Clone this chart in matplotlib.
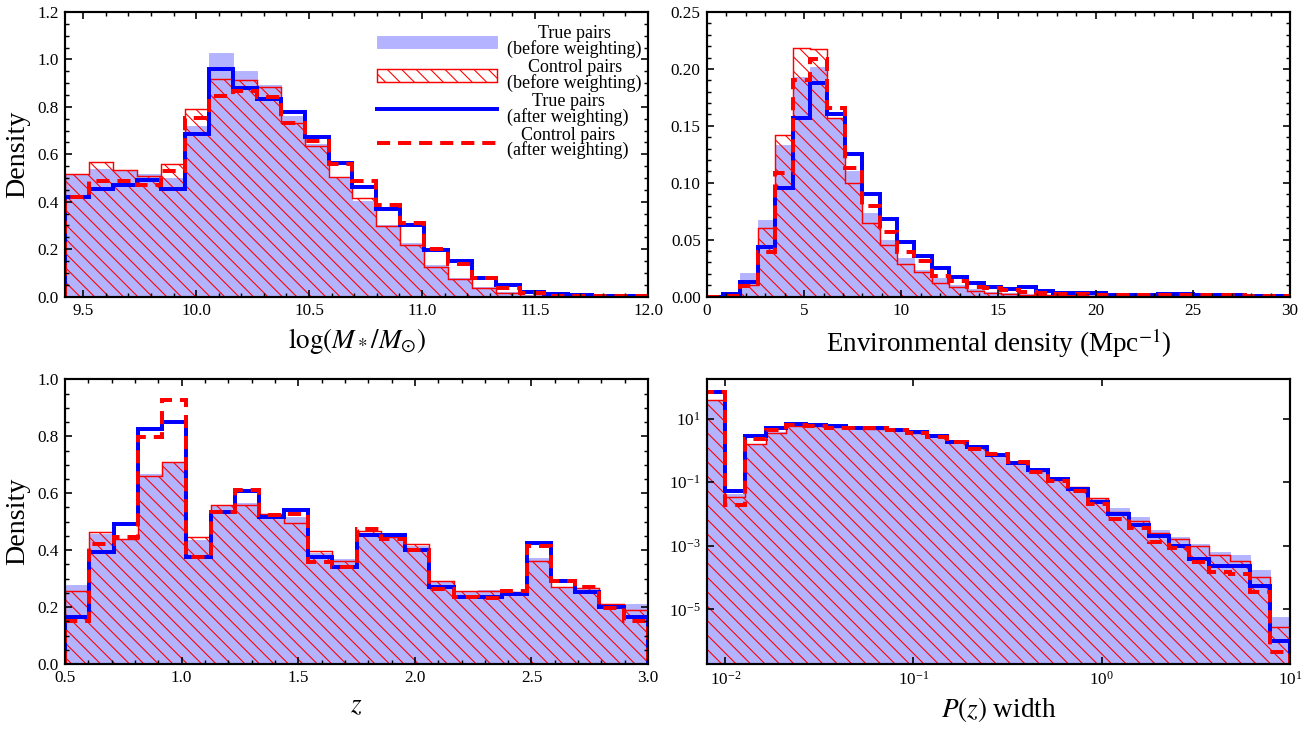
import matplotlib
matplotlib.use('Agg')
import matplotlib.pyplot as plt
import numpy as np
from matplotlib.ticker import AutoMinorLocator, NullLocator

plt.rcParams['font.family'] = ['Liberation Serif', 'DejaVu Serif']
plt.rcParams['mathtext.fontset'] = 'stix'
plt.rcParams['hatch.linewidth'] = 0.6
plt.rcParams['axes.linewidth'] = 1.2

# ---- stellar mass panel: bins start 9.42, width 0.106
mass_start, mass_width = 9.42, 0.106
mass_true_before = [0.515, 0.536, 0.53, 0.515, 0.50, 0.72, 1.026, 0.95, 0.894, 0.76,
                    0.642, 0.50, 0.405, 0.303, 0.226, 0.134, 0.08, 0.042, 0.018, 0.007,
                    0.003, 0.002, 0.001, 0.0005, 0.0003]
mass_ctrl_before = [0.515, 0.567, 0.532, 0.508, 0.558, 0.79, 0.918, 0.915, 0.882, 0.734,
                    0.635, 0.504, 0.414, 0.296, 0.219, 0.124, 0.075, 0.035, 0.014, 0.004,
                    0.0015, 0.001, 0.0005, 0.0003, 0.0002]
mass_true_after = [0.42, 0.455, 0.47, 0.49, 0.455, 0.685, 0.96, 0.878, 0.833, 0.779,
                   0.671, 0.565, 0.462, 0.371, 0.30, 0.195, 0.148, 0.08, 0.049, 0.021,
                   0.01, 0.006, 0.003, 0.001, 0.0005]
mass_ctrl_after = [0.42, 0.487, 0.487, 0.469, 0.53, 0.755, 0.847, 0.868, 0.84, 0.73,
                   0.657, 0.56, 0.487, 0.388, 0.31, 0.202, 0.137, 0.08, 0.038, 0.014,
                   0.004, 0.003, 0.002, 0.001, 0.0005]

# ---- environmental density panel: bins start -0.07, width 0.895
env_start, env_width = -0.07, 0.895
env_true_before = [0.0005, 0.002, 0.0205, 0.067, 0.133, 0.193, 0.2015, 0.157, 0.11, 0.0735,
                   0.05, 0.034, 0.0235, 0.016, 0.010, 0.0068, 0.0044, 0.003, 0.002, 0.0018,
                   0.0015, 0.0013, 0.0012, 0.001, 0.001, 0.0009, 0.0009, 0.0009, 0.0008, 0.0007,
                   0.0006, 0.0006, 0.0005, 0.0005]
env_ctrl_before = [0.0003, 0.001, 0.010, 0.060, 0.142, 0.218, 0.2176, 0.157, 0.100, 0.065,
                   0.0456, 0.029, 0.0215, 0.012, 0.008, 0.005, 0.003, 0.002, 0.0015, 0.0012,
                   0.001, 0.001, 0.0008, 0.0008, 0.0007, 0.0007, 0.0006, 0.0006, 0.0005, 0.0005,
                   0.0004, 0.0004, 0.0004, 0.0003]
env_true_after = [0.0, 0.002, 0.013, 0.0435, 0.095, 0.157, 0.188, 0.160, 0.125, 0.0897,
                  0.0685, 0.0476, 0.036, 0.025, 0.017, 0.0118, 0.008, 0.0068, 0.008, 0.005,
                  0.003, 0.003, 0.0035, 0.0018, 0.0018, 0.0018, 0.002, 0.0026, 0.0018, 0.0012,
                  0.001, 0.0008, 0.0008, 0.0008]
env_ctrl_after = [0.0, 0.0005, 0.009, 0.039, 0.109, 0.19, 0.209, 0.166, 0.113, 0.080,
                  0.057, 0.039, 0.031, 0.0185, 0.014, 0.0088, 0.0074, 0.0056, 0.004, 0.003,
                  0.002, 0.002, 0.0018, 0.0015, 0.0015, 0.0012, 0.0012, 0.0015, 0.0012, 0.0012,
                  0.001, 0.0008, 0.0006, 0.0005]

# ---- redshift panel: 24 bins 0.5 -> 3.0
z_range = (0.5, 3.0)
z_true_before = [0.277, 0.458, 0.44, 0.666, 0.707, 0.434, 0.554, 0.566, 0.522, 0.516,
                 0.39, 0.369, 0.458, 0.452, 0.416, 0.287, 0.254, 0.259, 0.248, 0.373,
                 0.267, 0.263, 0.20, 0.212]
z_ctrl_before = [0.255, 0.463, 0.44, 0.66, 0.711, 0.446, 0.56, 0.56, 0.526, 0.496,
                 0.396, 0.363, 0.466, 0.446, 0.422, 0.29, 0.255, 0.255, 0.254, 0.361,
                 0.269, 0.267, 0.21, 0.189]
z_true_after = [0.165, 0.395, 0.493, 0.825, 0.849, 0.377, 0.534, 0.607, 0.517, 0.542,
                0.375, 0.342, 0.452, 0.452, 0.40, 0.269, 0.236, 0.236, 0.245, 0.426,
                0.292, 0.254, 0.202, 0.165]
z_ctrl_after = [0.151, 0.42, 0.448, 0.796, 0.927, 0.377, 0.534, 0.613, 0.522, 0.528,
                0.36, 0.34, 0.475, 0.44, 0.40, 0.263, 0.236, 0.231, 0.255, 0.414,
                0.292, 0.269, 0.196, 0.151]

# ---- P(z) width panel: log bins, first edge 10^-2.107, 3/28 dex wide
pz_log_start, pz_log_width = -2.0 - 3.0 / 28, 3.0 / 28
pz_true_before = [38, 0.043, 1.62, 3.8, 5.9, 5.9, 5.45, 5.1, 4.83, 4.3,
                  3.6, 2.77, 1.83, 1.27, 0.73, 0.41, 0.23, 0.133, 0.066, 0.030,
                  0.0152, 0.0079, 0.0032, 0.0019, 0.00113, 0.00063, 0.00051, 0.000166, 5.9e-6]
pz_ctrl_before = [38, 0.035, 1.62, 3.6, 5.9, 5.9, 5.45, 5.1, 4.83, 4.3,
                  3.6, 2.77, 1.83, 1.27, 0.73, 0.41, 0.23, 0.119, 0.068, 0.031,
                  0.0113, 0.0062, 0.0026, 0.0016, 0.0010, 0.00050, 0.00034, 0.0001, 2.8e-6]
pz_true_after = [69, 0.051, 2.84, 5.2, 6.5, 6.2, 5.7, 5.1, 5.0, 4.3,
                 3.8, 2.77, 1.83, 1.27, 0.73, 0.41, 0.24, 0.121, 0.059, 0.023,
                 0.0100, 0.0045, 0.0020, 0.0010, 0.00038, 0.00023, 0.00023, 5.5e-5, 9.9e-7]
pz_ctrl_after = [69, 0.0197, 2.2, 4.3, 6.2, 5.8, 5.2, 5.0, 5.1, 4.3,
                 3.4, 2.6, 1.8, 1.14, 0.75, 0.42, 0.21, 0.105, 0.052, 0.021,
                 0.0070, 0.0035, 0.0013, 0.00084, 0.00031, 0.00015, 0.00013, 3.6e-5, 4.5e-7]

labels = ['True pairs\n(before weighting)', 'Control pairs\n(before weighting)',
          'True pairs\n(after weighting)', 'Control pairs\n(after weighting)']

BACKSLASH_HATCH = chr(92) * 3   # diagonal hatch, ~13 px apart


def draw_hists(ax, edges, tb, cb, ta, ca, baseline=0.0):
    h1 = ax.stairs(tb, edges, baseline=baseline, fill=True, facecolor='#b3b3ff',
                   edgecolor='#b3b3ff', lw=0.5, label=labels[0])
    h2 = ax.stairs(cb, edges, baseline=baseline, fill=True, facecolor='none',
                   edgecolor='red', hatch=BACKSLASH_HATCH, lw=0.8, label=labels[1])
    h3 = ax.stairs(ta, edges, baseline=baseline, fill=False, edgecolor='blue',
                   lw=2.2, label=labels[2])
    h4 = ax.stairs(ca, edges, baseline=baseline, fill=False, edgecolor='red',
                   lw=2.2, linestyle=(0, (3.3, 2.0)), label=labels[3])
    return [h1, h2, h3, h4]


def style_ax(ax, minor=True):
    if minor:
        ax.xaxis.set_minor_locator(AutoMinorLocator())
        ax.yaxis.set_minor_locator(AutoMinorLocator())
    ax.tick_params(which='both', direction='in', top=True, right=True, labelsize=9.5)
    ax.tick_params(which='major', length=4, width=0.9)
    ax.tick_params(which='minor', length=2.2, width=0.8)


fig, axes = plt.subplots(2, 2, figsize=(1311 / 130, 732 / 130), dpi=130)
fig.subplots_adjust(left=0.0496, right=0.984, top=0.9836, bottom=0.0929,
                    wspace=0.101, hspace=0.291)

# top left: stellar mass
ax = axes[0, 0]
edges = mass_start + mass_width * np.arange(len(mass_true_before) + 1)
handles = draw_hists(ax, edges, mass_true_before, mass_ctrl_before, mass_true_after, mass_ctrl_after)
ax.set_xlim(9.42, 12.0)
ax.set_ylim(0, 1.2)
ax.set_xticks([9.5, 10.0, 10.5, 11.0, 11.5, 12.0])
ax.set_xlabel(r'$\log(M_*/M_{\odot})$', fontsize=15)
ax.set_ylabel('Density', fontsize=15.5)
style_ax(ax)
leg = ax.legend(handles=handles, loc='upper right', bbox_to_anchor=(1.005, 0.985),
                frameon=False, fontsize=10, handlelength=6.6, handletextpad=0.6,
                labelspacing=0.05, borderaxespad=0.1)
for t in leg.get_texts():
    t.set_multialignment('center')
    t.set_linespacing(0.85)

# top right: environmental density
ax = axes[0, 1]
edges = env_start + env_width * np.arange(len(env_true_before) + 1)
draw_hists(ax, edges, env_true_before, env_ctrl_before, env_true_after, env_ctrl_after)
ax.set_xlim(0, 30)
ax.set_ylim(0, 0.25)
ax.set_xlabel(r'Environmental density (Mpc$^{-1}$)', fontsize=15)
style_ax(ax)

# bottom left: redshift
ax = axes[1, 0]
edges = np.linspace(z_range[0], z_range[1], len(z_true_before) + 1)
draw_hists(ax, edges, z_true_before, z_ctrl_before, z_true_after, z_ctrl_after)
ax.set_xlim(0.5, 3.0)
ax.set_ylim(0, 1.0)
ax.set_xlabel(r'$z$', fontsize=15)
ax.set_ylabel('Density', fontsize=15.5)
style_ax(ax)

# bottom right: P(z) width
ax = axes[1, 1]
edges = 10 ** (pz_log_start + pz_log_width * np.arange(len(pz_true_before) + 1))
ax.set_xscale('log')
ax.set_yscale('log')
draw_hists(ax, edges, pz_true_before, pz_ctrl_before, pz_true_after, pz_ctrl_after,
           baseline=1e-12)
ax.set_xlim(0.008, 10)
ax.set_ylim(1.9e-7, 170)
ax.set_yticks([1e-5, 1e-3, 1e-1, 1e1])
ax.set_xlabel(r'$P(z)$ width', fontsize=15)
style_ax(ax, minor=False)
ax.xaxis.set_minor_locator(NullLocator())
ax.yaxis.set_minor_locator(NullLocator())

fig.savefig('out.png', dpi=130)
